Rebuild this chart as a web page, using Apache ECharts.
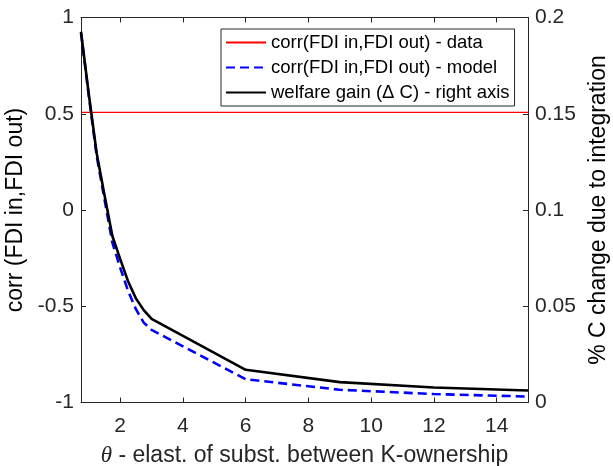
<!DOCTYPE html>
<html>
<head>
<meta charset="utf-8">
<script src="https://cdn.jsdelivr.net/npm/echarts@6/dist/echarts.min.js"></script>
<style>html,body{margin:0;padding:0;background:#fff}#c{width:613px;height:466px}</style>
</head>
<body>
<div id="c"></div>
<script>
// theta values (x)
const theta = [0.75, 1, 1.25, 1.5, 1.75, 2, 2.25, 2.5, 2.75, 3, 6, 9, 12, 15];
// corr(FDI in, FDI out) - model (left axis)
const corrModel = [0.92, 0.59, 0.28, 0.055, -0.17, -0.30, -0.42, -0.515, -0.585, -0.623, -0.879, -0.934, -0.956, -0.969];
// welfare gain (% C change) - right axis
const welfareGain = [0.1926, 0.160, 0.1295, 0.1077, 0.0865, 0.0745, 0.063, 0.0541, 0.048, 0.0434, 0.0170, 0.0106, 0.0078, 0.0062];
// data correlation (constant)
const corrDataX = [0.75, 15];
const corrDataValue = 0.507;
const xTicks = [2, 4, 6, 8, 10, 12, 14];
const leftTicks = [-1, -0.5, 0, 0.5, 1];
const rightTicks = [0, 0.05, 0.1, 0.15, 0.2];

const seriesNames = ['corr(FDI in,FDI out) - data', 'corr(FDI in,FDI out) - model', 'welfare gain (\u0394 C) - right axis'];

const font = 'Liberation Sans';
const axCol = '#262626';

const chart = echarts.init(document.getElementById('c'), null, {renderer: 'canvas'});
chart.setOption({
  animation: false,
  grid: {left: 81, right: 85, top: 17.5, bottom: 63.5, show: false, outerBoundsMode: 'none', containLabel: false},
  legend: {
    orient: 'vertical', left: 221, top: 29,
    data: seriesNames,
    itemWidth: 40, itemHeight: 14, itemGap: 6,
    backgroundColor: '#fff',
    borderColor: axCol, borderWidth: 1,
    padding: [4, 5, 4, 4],
    itemStyle: {opacity: 0},
    textStyle: {fontFamily: font, fontSize: 18.5, color: '#000'}
  },
  xAxis: [{
    type: 'value', min: 0.75, max: 15,
    position: 'bottom',
    axisLine: {show: true, onZero: false, lineStyle: {color: axCol, width: 1}},
    axisTick: {show: true, inside: true, length: 5, customValues: xTicks, lineStyle: {color: axCol}},
    axisLabel: {show: true, customValues: xTicks, fontSize: 21, color: axCol, margin: 13, fontFamily: font},
    splitLine: {show: false},
    name: '{i|\u03b8} - elast. of subst. between K-ownership',
    nameLocation: 'middle', nameGap: 42,
    nameTextStyle: {fontSize: 23, color: axCol, fontFamily: font, rich: {i: {fontStyle: 'italic', fontSize: 23, color: axCol, fontFamily: 'Liberation Serif'}}}
  }, {
    type: 'value', min: 0.75, max: 15,
    position: 'top',
    axisLine: {show: true, onZero: false, lineStyle: {color: axCol, width: 1}},
    axisTick: {show: true, inside: true, length: 5, customValues: xTicks, lineStyle: {color: axCol}},
    axisLabel: {show: false},
    splitLine: {show: false}
  }],
  yAxis: [{
    type: 'value', min: -1, max: 1, interval: 0.5,
    position: 'left',
    axisLine: {show: true, onZero: false, lineStyle: {color: axCol, width: 1}},
    axisTick: {show: true, inside: true, length: 5, lineStyle: {color: axCol}},
    axisLabel: {fontSize: 21, color: axCol, margin: 7, fontFamily: font,
      customValues: leftTicks,
      formatter: v => String(Math.round(v * 100) / 100)},
    splitLine: {show: false},
    name: 'corr (FDI in,FDI out)', nameLocation: 'middle', nameGap: 48, nameRotate: 90,
    nameTextStyle: {fontSize: 23, color: '#000', fontFamily: font}
  }, {
    type: 'value', min: 0, max: 0.2, interval: 0.05,
    position: 'right',
    axisLine: {show: true, onZero: false, lineStyle: {color: axCol, width: 1}},
    axisTick: {show: true, inside: true, length: 5, lineStyle: {color: axCol}},
    axisLabel: {fontSize: 21, color: axCol, margin: 7, fontFamily: font,
      customValues: rightTicks,
      formatter: v => String(Math.round(v * 1000) / 1000)},
    splitLine: {show: false},
    name: '% C change due to integration', nameLocation: 'middle', nameGap: 59, nameRotate: 90,
    nameTextStyle: {fontSize: 23, color: '#000', fontFamily: font}
  }],
  series: [{
    name: seriesNames[0], type: 'line', xAxisIndex: 0, yAxisIndex: 0,
    data: corrDataX.map(x => [x, corrDataValue]),
    symbol: 'none', lineStyle: {color: '#ff0000', width: 1.2}, itemStyle: {color: '#ff0000'}, z: 2
  }, {
    name: seriesNames[1], type: 'line', xAxisIndex: 0, yAxisIndex: 0,
    data: theta.map((x, i) => [x, corrModel[i]]),
    symbol: 'none', lineStyle: {color: '#0000ff', width: 2.6, type: [9, 5]}, itemStyle: {color: '#0000ff'}, z: 3
  }, {
    name: seriesNames[2], type: 'line', xAxisIndex: 0, yAxisIndex: 1,
    data: theta.map((x, i) => [x, welfareGain[i]]),
    symbol: 'none', lineStyle: {color: '#000000', width: 2.6}, itemStyle: {color: '#000'}, z: 4
  }]
});
</script>
</body>
</html>
